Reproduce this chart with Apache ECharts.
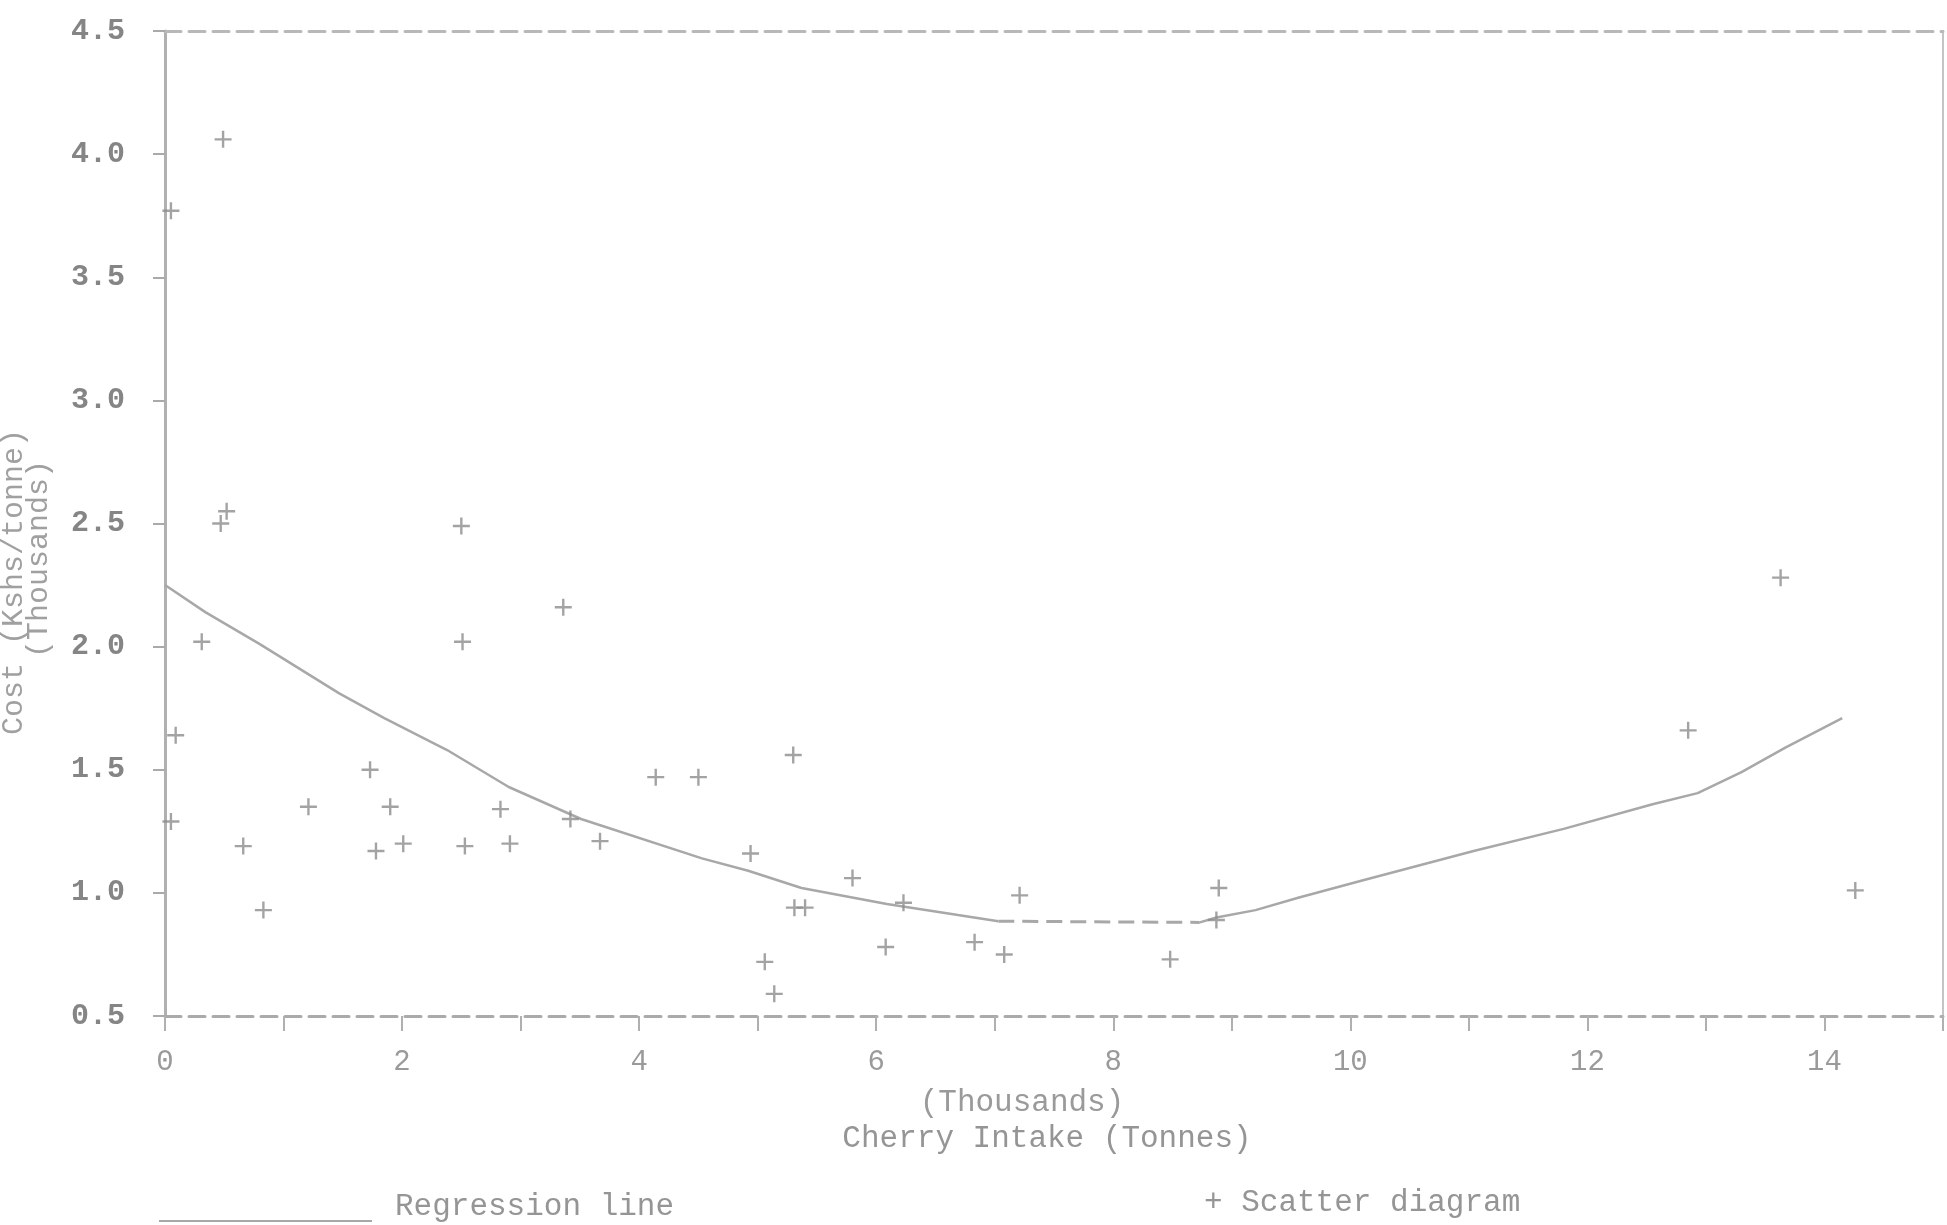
<!DOCTYPE html>
<html>
<head>
<meta charset="utf-8">
<script src="https://cdn.jsdelivr.net/npm/echarts@6/dist/echarts.min.js"></script>
<style>
html,body{margin:0;padding:0;background:#fff;}
#chart{width:1947px;height:1225px;}
</style>
</head>
<body>
<div id="chart"></div>
<script>
// Scatter observations (thousands of tonnes, thousands Kshs/tonne)
var scatterX = [0.49,0.05,0.47,0.52,0.31,0.09,0.05,0.66,0.83,1.21,1.73,1.78,1.90,2.01,2.50,2.51,2.53,2.83,2.91,3.36,3.42,3.67,4.14,4.50,4.94,5.06,5.14,5.30,5.31,5.40,5.80,6.08,6.23,6.83,7.08,7.21,8.48,8.89,8.87,12.85,13.63,14.26];
var scatterY = [4.06,3.77,2.50,2.55,2.02,1.64,1.29,1.19,0.93,1.35,1.50,1.17,1.35,1.20,2.49,2.02,1.19,1.34,1.20,2.16,1.30,1.21,1.47,1.47,1.16,0.72,0.59,1.56,0.94,0.94,1.06,0.78,0.96,0.80,0.75,0.99,0.73,1.02,0.89,1.66,2.28,1.01];

// Regression line
var regX = [0,0.34,0.80,1.47,1.85,2.38,2.90,3.51,4.53,4.92,5.37,6.09,6.69,7.03,8.73,8.87,9.20,9.56,10.10,11.04,11.80,12.55,12.93,13.30,13.67,14.15];
var regY = [2.25,2.14,2.01,1.81,1.71,1.58,1.43,1.30,1.14,1.09,1.02,0.955,0.91,0.885,0.88,0.90,0.93,0.98,1.05,1.17,1.26,1.36,1.405,1.49,1.59,1.71];
var dashedFrom = 13, dashedTo = 14; // flat section printed dashed

var yTicks = [0.5,1.0,1.5,2.0,2.5,3.0,3.5,4.0,4.5];
var xLabelValues = [0,2,4,6,8,10,12,14];

var FONT = '"Liberation Mono","DejaVu Sans Mono",monospace';
var chart = echarts.init(document.getElementById('chart'));

var scatterData = scatterX.map(function(x,i){return [x, scatterY[i]];});
var solidData = [];
var dashData = [];
for (var i=0;i<regX.length;i++){
  solidData.push([regX[i], regY[i]]);
  if (i===dashedFrom) solidData.push('-');
  if (i>=dashedFrom && i<=dashedTo) dashData.push([regX[i], regY[i]]);
}

var plusPath = 'path://M0,4.3H10V5.7H0Z M4.3,0H5.7V10H4.3Z';

chart.setOption({
  animation:false,
  backgroundColor:'#ffffff',
  grid:{left:165,right:4,top:31,bottom:209,containLabel:false},
  xAxis:[{
    type:'value',min:0,max:15,interval:1,position:'bottom',
    axisLine:{show:true,lineStyle:{color:'#aaaaaa',width:3,type:[16,8]}},
    axisTick:{show:true,length:15,lineStyle:{color:'#b0b0b0',width:2}},
    axisLabel:{margin:32,color:'#9a9a9a',fontFamily:FONT,fontSize:29,
      formatter:function(v){return xLabelValues.indexOf(v)>=0?String(v):'';}},
    splitLine:{show:false}
  },{
    type:'value',min:0,max:15,position:'top',
    axisLine:{show:true,onZero:false,lineStyle:{color:'#b8b8b8',width:3,type:[16,8]}},
    axisTick:{show:false},axisLabel:{show:false},splitLine:{show:false}
  }],
  yAxis:[{
    type:'value',min:0.5,max:4.5,interval:0.5,position:'left',
    axisLine:{show:true,onZero:false,lineStyle:{color:'#b0b0b0',width:3}},
    axisTick:{show:true,length:12,lineStyle:{color:'#aaaaaa',width:2}},
    axisLabel:{margin:40,color:'#858585',fontFamily:FONT,fontSize:30,fontWeight:'bold',
      formatter:function(v){return yTicks.indexOf(v)>=0?v.toFixed(1):'';}},
    splitLine:{show:false}
  },{
    type:'value',min:0.5,max:4.5,position:'right',
    axisLine:{show:true,onZero:false,lineStyle:{color:'#c4c4c4',width:2}},
    axisTick:{show:false},axisLabel:{show:false},splitLine:{show:false}
  }],
  series:[{
    name:'Regression line',type:'line',data:solidData,showSymbol:false,symbol:'none',
    connectNulls:false,smooth:false,
    lineStyle:{color:'#a8a8a8',width:2.5},z:2
  },{
    name:'Regression line (flat)',type:'line',data:dashData,showSymbol:false,symbol:'none',
    lineStyle:{color:'#a8a8a8',width:3,type:[16,8]},z:2
  },{
    name:'Scatter diagram',type:'scatter',data:scatterData,
    symbol:plusPath,symbolSize:17,
    itemStyle:{color:'#8c8c8c'},z:3
  }],
  graphic:[
    {type:'text',x:1022,y:1103,style:{text:'(Thousands)',fill:'#9a9a9a',font:'31px '+FONT,textAlign:'center',textVerticalAlign:'middle'}},
    {type:'text',x:1047,y:1139,style:{text:'Cherry Intake (Tonnes)',fill:'#959595',font:'31px '+FONT,textAlign:'center',textVerticalAlign:'middle'}},
    {type:'text',x:14,y:582,rotation:Math.PI/2,style:{text:'Cost (Kshs/tonne)',fill:'#a0a0a0',font:'30px '+FONT,textAlign:'center',textVerticalAlign:'middle'}},
    {type:'text',x:39,y:559,rotation:Math.PI/2,style:{text:'(Thousands)',fill:'#a0a0a0',font:'30px '+FONT,textAlign:'center',textVerticalAlign:'middle'}},
    {type:'line',shape:{x1:159,y1:1221,x2:372,y2:1221},style:{stroke:'#a8a8a8',lineWidth:2}},
    {type:'text',x:395,y:1207,style:{text:'Regression line',fill:'#959595',font:'31px '+FONT,textAlign:'left',textVerticalAlign:'middle'}},
    {type:'text',x:1204,y:1203,style:{text:'+ Scatter diagram',fill:'#959595',font:'31px '+FONT,textAlign:'left',textVerticalAlign:'middle'}}
  ]
});
</script>
</body>
</html>
